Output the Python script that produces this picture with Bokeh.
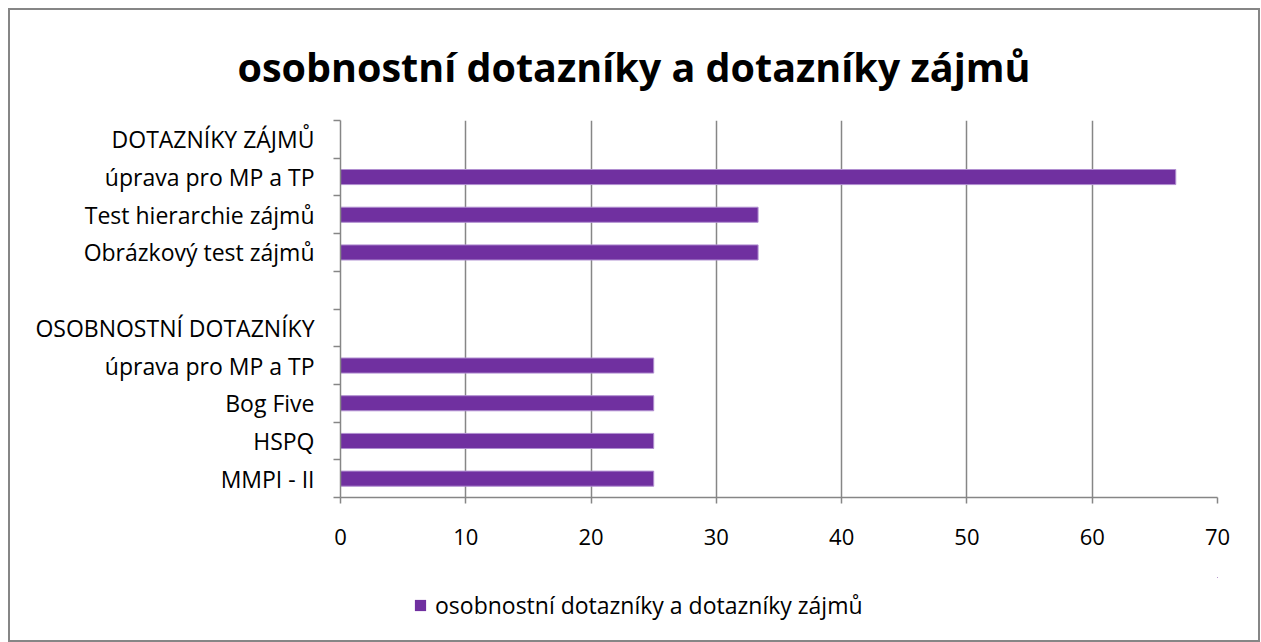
from bokeh.plotting import figure
from bokeh.layouts import column
from bokeh.models import FixedTicker, Legend, LegendItem, Range1d
from bokeh.embed import file_html
from bokeh.resources import INLINE

# categories bottom -> top
categories = ["MMPI - II", "HSPQ", "Bog Five", "úprava pro MP a TP",
              "OSOBNOSTNÍ DOTAZNÍKY", "",
              "Obrázkový test zájmů", "Test hierarchie zájmů", "úprava pro MP a TP",
              "DOTAZNÍKY ZÁJMŮ"]
values = [25, 25, 25, 25, 0, 0, 33.33, 33.33, 66.67, 0]
x_ticks = [0, 10, 20, 30, 40, 50, 60, 70]
series_name = "osobnostní dotazníky a dotazníky zájmů"
title_text = "osobnostní dotazníky a dotazníky zájmů"

FONT = "Open Sans"
GRAY = "#868686"
BAR = "#7030A0"
BAR_EDGE = "#b08ed0"

n = len(categories)
centers = [i + 0.5 for i in range(n)]

p = figure(width=1248, height=567, output_backend="svg", toolbar_location=None,
           x_range=Range1d(0, 70), y_range=Range1d(0, n),
           min_border_left=330, min_border_right=41, min_border_top=110,
           min_border_bottom=80)
p.outline_line_color = None
p.background_fill_color = "white"
p.border_fill_color = "white"

r = p.hbar(y=centers, right=values, left=0, height=0.4,
           fill_color=BAR, line_color=BAR_EDGE, line_width=1)

# x axis
p.xaxis.ticker = FixedTicker(ticks=x_ticks)
p.xaxis.axis_line_color = GRAY
p.xaxis.axis_line_width = 1.5
p.xaxis.major_tick_line_color = GRAY
p.xaxis.major_tick_line_width = 1.5
p.xaxis.major_tick_out = 6
p.xaxis.major_tick_in = 0
p.xaxis.minor_tick_line_color = None
p.xaxis.major_label_text_font = FONT
p.xaxis.major_label_text_font_size = "22px"
p.xaxis.major_label_text_color = "black"
p.xaxis.major_label_standoff = 25

# y axis
p.yaxis.ticker = FixedTicker(ticks=centers, minor_ticks=list(range(n + 1)))
p.yaxis.major_label_overrides = {c: lab for c, lab in zip(centers, categories)}
p.yaxis.axis_line_color = GRAY
p.yaxis.axis_line_width = 1.5
p.yaxis.major_tick_line_color = None
p.yaxis.major_tick_out = 0
p.yaxis.major_tick_in = 0
p.yaxis.minor_tick_line_color = GRAY
p.yaxis.minor_tick_out = 7
p.yaxis.minor_tick_in = 0
p.yaxis.minor_tick_line_width = 1.5
p.yaxis.major_label_text_font = FONT
p.yaxis.major_label_text_font_size = "23px"
p.yaxis.major_label_text_color = "black"
p.yaxis.major_label_standoff = 19

p.xgrid.ticker = FixedTicker(ticks=x_ticks)
p.xgrid.grid_line_color = GRAY
p.xgrid.grid_line_width = 1.5
p.ygrid.grid_line_color = None

# title
p.title.text = title_text
p.title.align = "left"
p.title.offset = -103
p.title.text_font = FONT
p.title.text_font_style = "bold"
p.title.text_font_size = "39.5px"
p.title.text_color = "black"
p.title.standoff = 54

# legend in its own strip below the chart (frames are aligned by the column);
# the proxy bars lie entirely outside this strip's frame
lg = figure(width=1248, height=63, output_backend="svg", toolbar_location=None,
            x_axis_type=None, y_axis_type=None,
            x_range=Range1d(-100, -90), y_range=Range1d(-3, -2),
            min_border_left=0, min_border_right=0, min_border_top=0,
            min_border_bottom=0)
lg.outline_line_color = None
lg.grid.grid_line_color = None
lg.background_fill_color = "white"
lg.border_fill_color = "white"
proxy = lg.hbar(y=centers, right=values, left=0, height=0.4,
                fill_color=BAR, line_color=None)
legend = Legend(items=[LegendItem(label=series_name, renderers=[proxy])],
                location=(73, 19), padding=0, margin=0, spacing=0,
                glyph_width=14, glyph_height=14, label_standoff=8,
                label_text_font=FONT, label_text_font_size="23px",
                label_text_color="black",
                label_height=20, border_line_color=None,
                background_fill_alpha=0)
lg.add_layout(legend, "center")

layout = column(p, lg, spacing=0)
layout.styles = {"border": "2px solid #868686", "margin-left": "8px", "margin-top": "8px"}

open("out.html", "w").write(file_html(layout, INLINE))
